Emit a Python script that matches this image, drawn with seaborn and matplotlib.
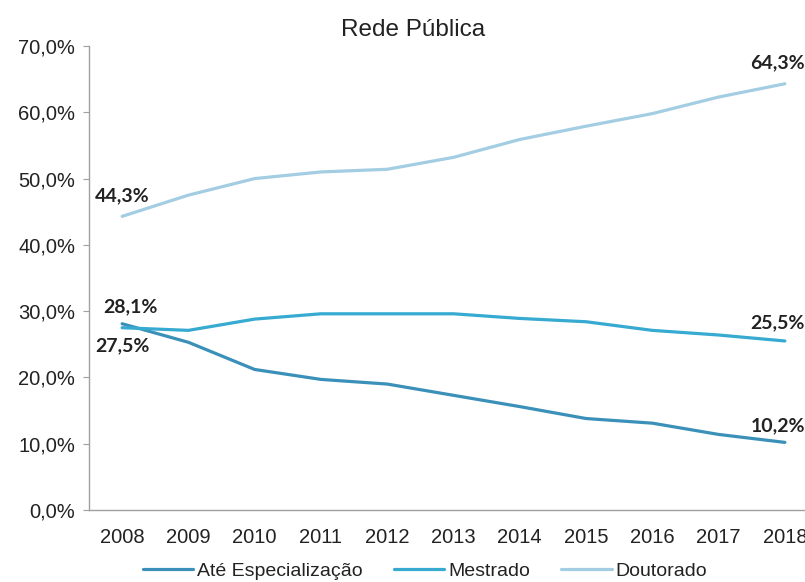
import matplotlib
matplotlib.use("Agg")
import matplotlib.pyplot as plt
import matplotlib.ticker as mticker
import seaborn as sns
import pandas as pd

years = [2008, 2009, 2010, 2011, 2012, 2013, 2014, 2015, 2016, 2017, 2018]
ate_especializacao = [28.1, 25.3, 21.2, 19.7, 19.0, 17.3, 15.6, 13.8, 13.1, 11.4, 10.2]
mestrado = [27.5, 27.1, 28.8, 29.6, 29.6, 29.6, 28.9, 28.4, 27.1, 26.4, 25.5]
doutorado = [44.3, 47.5, 50.0, 51.0, 51.4, 53.2, 55.9, 57.9, 59.8, 62.3, 64.3]
series_names = ["Até Especialização", "Mestrado", "Doutorado"]
colors = ["#3a90b8", "#36aad0", "#a3cde2"]

df = pd.DataFrame({
    "Ano": years * 3,
    "Valor": ate_especializacao + mestrado + doutorado,
    "Série": [series_names[0]] * len(years) + [series_names[1]] * len(years) + [series_names[2]] * len(years),
})
df["pos"] = df["Ano"] - years[0]

sns.set_style("white")
plt.rcParams["font.family"] = ["Liberation Sans", "DejaVu Sans"]

W, H = 805, 582
fig = plt.figure(figsize=(W / 100, H / 100), dpi=100)
# plot area: left spine at x=89 px, category band extends past the right edge
ax = fig.add_axes([89 / W, 1 - 510 / H, (818 - 89) / W, (510 - 46) / H])

sns.lineplot(data=df, x="pos", y="Valor", hue="Série", palette=colors,
             hue_order=series_names, linewidth=2.3, ax=ax, legend=True)

ax.set_xlim(-0.5, len(years) - 0.5)
ax.set_ylim(0, 70)
ax.set_xticks(range(len(years)))
ax.set_xticklabels([str(y) for y in years], fontsize=14.5, color="#222222")
ax.xaxis.set_minor_locator(mticker.FixedLocator([i + 0.5 for i in range(-1, len(years))]))
ax.tick_params(axis="x", which="major", length=0, pad=13)
ax.tick_params(axis="x", which="minor", length=4, direction="in", color="#a0a0a0", width=1)
ax.set_yticks(range(0, 71, 10))
ax.yaxis.set_major_formatter(mticker.FuncFormatter(lambda v, p: f"{v:.1f}%".replace(".", ",")))
ax.tick_params(axis="y", length=4, direction="out", color="#a0a0a0", labelsize=14.5,
               labelcolor="#222222", pad=6, left=True)
ax.set_xlabel("")
ax.set_ylabel("")

for side in ["top", "right"]:
    ax.spines[side].set_visible(False)
for side in ["left", "bottom"]:
    ax.spines[side].set_color("#a0a0a0")
    ax.spines[side].set_linewidth(1)

fig.text(413 / W, 1 - 30 / H, "Rede Pública", fontsize=17.5, color="#222222",
         ha="center", va="center")

lab = dict(fontsize=14, fontweight="bold", color="#222222",
           family=["Lato", "DejaVu Sans"])
last = len(years) - 1


def fmt(v):
    return f"{v:.1f}%".replace(".", ",")


ax.annotate(fmt(doutorado[0]), (0, doutorado[0]),
            xytext=(0, 9), textcoords="offset points", ha="center", va="bottom", **lab)
ax.annotate(fmt(doutorado[-1]), (last, doutorado[-1]),
            xytext=(-5, 9), textcoords="offset points", ha="center", va="bottom", **lab)
ax.annotate(fmt(ate_especializacao[0]), (0, ate_especializacao[0]),
            xytext=(6, 6), textcoords="offset points", ha="center", va="bottom", **lab)
ax.annotate(fmt(mestrado[0]), (0, mestrado[0]),
            xytext=(0, -7), textcoords="offset points", ha="center", va="top", **lab)
ax.annotate(fmt(mestrado[-1]), (last, mestrado[-1]),
            xytext=(-5, 7), textcoords="offset points", ha="center", va="bottom", **lab)
ax.annotate(fmt(ate_especializacao[-1]), (last, ate_especializacao[-1]),
            xytext=(-5, 6), textcoords="offset points", ha="center", va="bottom", **lab)

handles, labels = ax.get_legend_handles_labels()
ax.get_legend().remove()
fig.legend(handles, labels, loc="center", bbox_to_anchor=(425 / W, 1 - 571 / H),
           ncol=3, frameon=False, fontsize=14, handlelength=2.6, handletextpad=0.2,
           columnspacing=1.6, labelcolor="#222222", borderpad=0)

fig.savefig("out.png", dpi=100)
